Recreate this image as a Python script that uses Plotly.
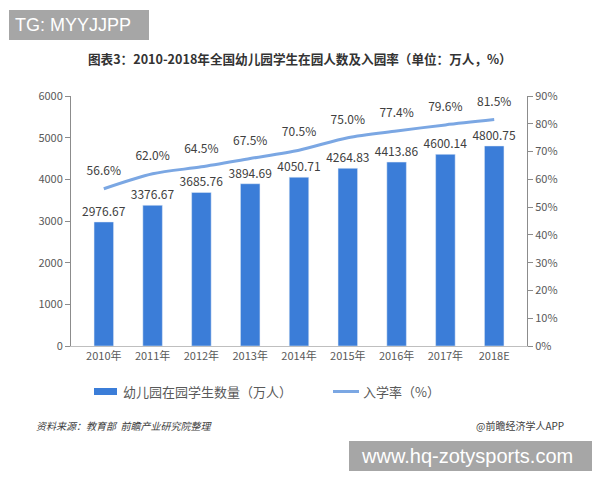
import plotly.graph_objects as go

years = ["2010年", "2011年", "2012年", "2013年", "2014年", "2015年", "2016年", "2017年", "2018E"]
students = [2976.67, 3376.67, 3685.76, 3894.69, 4050.71, 4264.83, 4413.86, 4600.14, 4800.75]
rate = [56.6, 62.0, 64.5, 67.5, 70.5, 75.0, 77.4, 79.6, 81.5]
left_ticks = [0, 1000, 2000, 3000, 4000, 5000, 6000]
right_ticks = [0, 10, 20, 30, 40, 50, 60, 70, 80, 90]

FONT = "Noto Sans CJK SC"
GREY = "#595959"
BAR = "#3b7dd8"
LINE = "#7ba7e3"

fig = go.Figure()
fig.add_trace(go.Bar(
    x=years, y=students, marker_color=BAR, width=0.4,
    text=[f"{v:.2f}" for v in students], textposition="outside", constraintext="none",
    textfont=dict(size=12, color="#404040", family=FONT),
    cliponaxis=False, showlegend=False,
))
fig.add_trace(go.Scatter(
    x=years, y=rate, yaxis="y2", mode="lines+markers+text",
    line=dict(color=LINE, width=3, shape="spline", smoothing=0.8),
    marker=dict(size=16, opacity=0, color=LINE),
    text=[f"{v:.1f}%" for v in rate], textposition="top center",
    textfont=dict(size=12, color="#404040", family=FONT),
    cliponaxis=False, showlegend=False, hoverinfo="skip",
))

fig.update_layout(
    width=600, height=480,
    margin=dict(l=71, r=73, t=96, b=134),
    paper_bgcolor="white", plot_bgcolor="white",
    font=dict(family=FONT, color=GREY, size=11),
    bargap=0.6,
    xaxis=dict(showline=True, linecolor="#bfbfbf", ticks="", tickfont=dict(size=11, color=GREY),
               showgrid=False),
    yaxis=dict(range=[0, 6000], tickvals=left_ticks, showline=True, linecolor="#8c8c8c",
               ticks="outside", ticklen=5, tickcolor="#8c8c8c", showgrid=False, zeroline=False,
               tickfont=dict(size=11, color=GREY)),
    yaxis2=dict(range=[0, 90], tickvals=right_ticks, ticktext=[f"{v}%" for v in right_ticks],
                overlaying="y", side="right", showline=True, linecolor="#8c8c8c",
                ticks="outside", ticklen=5, tickcolor="#8c8c8c", showgrid=False, zeroline=False,
                tickfont=dict(size=11, color=GREY)),
    showlegend=False,
)

def px_x(x):
    return (x - 71) / 456

def px_y(y):
    return (346 - y) / 250

shapes = [
    dict(type="rect", xref="paper", yref="paper", x0=px_x(9), x1=px_x(149),
         y0=px_y(40), y1=px_y(10), fillcolor="#a6a6a6", line_width=0, layer="above"),
    dict(type="rect", xref="paper", yref="paper", x0=px_x(349), x1=px_x(592),
         y0=px_y(471), y1=px_y(441), fillcolor="#a6a6a6", line_width=0, layer="above"),
    dict(type="rect", xref="paper", yref="paper", x0=px_x(94), x1=px_x(117),
         y0=px_y(395), y1=px_y(388), fillcolor=BAR, line_width=0),
    dict(type="line", xref="paper", yref="paper", x0=px_x(333), x1=px_x(359),
         y0=px_y(391.5), y1=px_y(391.5), line=dict(color=LINE, width=3)),
]

annotations = [
    dict(text="TG: MYYJJPP", x=px_x(13), y=px_y(25), xanchor="left", yanchor="middle",
         font=dict(family="Liberation Sans", size=18, color="white")),
    dict(text="www.hq-zotysports.com", x=px_x(467), y=px_y(456), xanchor="center", yanchor="middle",
         font=dict(family="Liberation Sans", size=20, color="white")),
    dict(text="<b>图表3：2010-2018年全国幼儿园学生在园人数及入园率（单位：万人，%）</b>",
         x=px_x(300), y=px_y(58), xanchor="center", yanchor="middle",
         font=dict(family=FONT, size=12.6, color="#333333")),
    dict(text="幼儿园在园学生数量（万人）", x=px_x(121), y=px_y(391.5), xanchor="left", yanchor="middle",
         font=dict(family=FONT, size=13, color=GREY)),
    dict(text="入学率（%）", x=px_x(361), y=px_y(391.5), xanchor="left", yanchor="middle",
         font=dict(family=FONT, size=13, color=GREY)),
    dict(text="<i>资料来源：教育部  前瞻产业研究院整理</i>", x=px_x(34), y=px_y(425), xanchor="left", yanchor="middle",
         font=dict(family=FONT, size=10, color="#404040")),
    dict(text="@前瞻经济学人APP", x=px_x(566), y=px_y(425), xanchor="right", yanchor="middle",
         font=dict(family=FONT, size=10, color="#404040")),
]
for a in annotations:
    a.update(xref="paper", yref="paper", showarrow=False)

fig.update_layout(shapes=shapes, annotations=annotations)
fig.write_html("out.html")
